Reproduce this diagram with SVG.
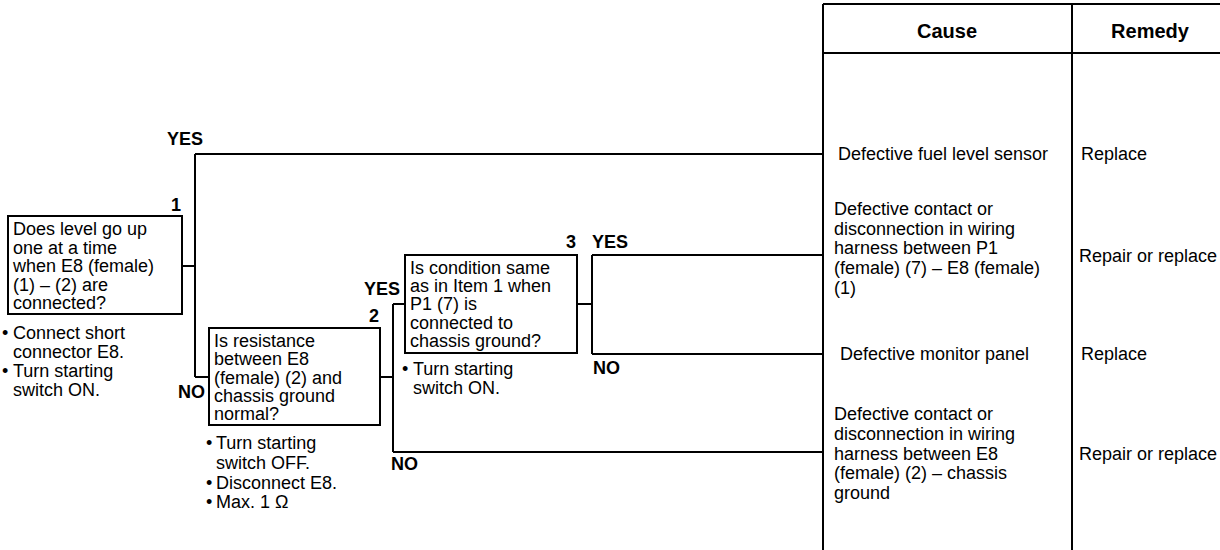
<svg xmlns="http://www.w3.org/2000/svg" width="1220" height="550" viewBox="0 0 1220 550">
<style>
.t{font-family:"Liberation Sans",Arial,sans-serif;font-size:18px;fill:#000}
.b{font-family:"Liberation Sans",Arial,sans-serif;font-size:18px;font-weight:bold;fill:#000}
.h{font-family:"Liberation Sans",Arial,sans-serif;font-size:20px;font-weight:bold;fill:#000;text-anchor:middle}
.box{fill:#fff;stroke:#000;stroke-width:2}
.ln{stroke:#000;stroke-width:2;fill:none}
</style>
<rect width="1220" height="550" fill="#fff"/>
<g id="connectors">
<path class="ln" d="M182,266H195M195,154V377M195,154H823M195,377H209"/>
<path class="ln" d="M380,377H393M393,304V452M393,304H405M393,452H823"/>
<path class="ln" d="M577,304H592M592,255V354M592,255H823M592,354H823"/>
<text class="b" x="167" y="145">YES</text>
<text class="b" x="178" y="398">NO</text>
<text class="b" x="364" y="295">YES</text>
<text class="b" x="391" y="470">NO</text>
<text class="b" x="592" y="248">YES</text>
<text class="b" x="593" y="374">NO</text>
</g>
<g id="box1">
<rect class="box" x="8" y="216" width="174" height="98"/>
<text class="b" x="181" y="211" text-anchor="end">1</text>
<text class="t"><tspan x="13" y="235">Does level go up</tspan><tspan x="13" y="253.5">one at a time</tspan><tspan x="13" y="272">when E8 (female)</tspan><tspan x="13" y="290.5">(1) – (2) are</tspan><tspan x="13" y="309">connected?</tspan></text>
<text class="t"><tspan x="2" y="339">•</tspan><tspan x="13" y="339">Connect short</tspan><tspan x="13" y="358">connector E8.</tspan><tspan x="2" y="377">•</tspan><tspan x="13" y="377">Turn starting</tspan><tspan x="13" y="396">switch ON.</tspan></text>
</g>
<g id="box2">
<rect class="box" x="209" y="328" width="171" height="97"/>
<text class="b" x="379" y="322" text-anchor="end">2</text>
<text class="t"><tspan x="214" y="347">Is resistance</tspan><tspan x="214" y="365">between E8</tspan><tspan x="214" y="384">(female) (2) and</tspan><tspan x="214" y="402">chassis ground</tspan><tspan x="214" y="420">normal?</tspan></text>
<text class="t"><tspan x="206" y="449">•</tspan><tspan x="216" y="449">Turn starting</tspan><tspan x="216" y="469">switch OFF.</tspan><tspan x="206" y="489">•</tspan><tspan x="216" y="489">Disconnect E8.</tspan><tspan x="206" y="508">•</tspan><tspan x="216" y="508">Max. 1 Ω</tspan></text>
</g>
<g id="box3">
<rect class="box" x="405" y="255" width="172" height="98"/>
<text class="b" x="576" y="248" text-anchor="end">3</text>
<text class="t"><tspan x="410" y="274">Is condition same</tspan><tspan x="410" y="292">as in Item 1 when</tspan><tspan x="410" y="310">P1 (7) is</tspan><tspan x="410" y="329">connected to</tspan><tspan x="410" y="347">chassis ground?</tspan></text>
<text class="t"><tspan x="402" y="375">•</tspan><tspan x="413" y="375">Turn starting</tspan><tspan x="413" y="394">switch ON.</tspan></text>
</g>
<g id="table">
<path class="ln" d="M823,4H1220M823,53H1220M823,4V550M1072,4V550"/>
<text class="h" x="947" y="38">Cause</text>
<text class="h" x="1150" y="38">Remedy</text>
</g>
<g id="result1">
<text class="t" x="838" y="160">Defective fuel level sensor</text>
<text class="t" x="1081" y="160">Replace</text>
</g>
<g id="result2">
<text class="t"><tspan x="834" y="215">Defective contact or</tspan><tspan x="834" y="235">disconnection in wiring</tspan><tspan x="834" y="254">harness between P1</tspan><tspan x="834" y="274">(female) (7) – E8 (female)</tspan><tspan x="834" y="294">(1)</tspan></text>
<text class="t" x="1079" y="262">Repair or replace</text>
</g>
<g id="result3">
<text class="t" x="840" y="360">Defective monitor panel</text>
<text class="t" x="1081" y="360">Replace</text>
</g>
<g id="result4">
<text class="t"><tspan x="834" y="420">Defective contact or</tspan><tspan x="834" y="440">disconnection in wiring</tspan><tspan x="834" y="460">harness between E8</tspan><tspan x="834" y="479">(female) (2) – chassis</tspan><tspan x="834" y="499">ground</tspan></text>
<text class="t" x="1079" y="460">Repair or replace</text>
</g>
</svg>
